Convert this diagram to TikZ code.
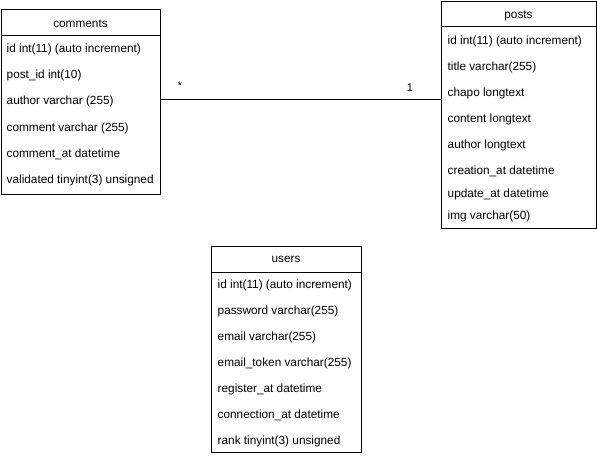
\documentclass[tikz,border=0pt]{standalone}
\usepackage{fontspec}
\setmainfont{Liberation Sans}
\begin{document}
\begin{tikzpicture}[x=1pt,y=-1pt,
  frame/.style={draw,line width=0.9pt,anchor=north west,inner sep=0pt,outer sep=0pt},
  title/.style={font=\fontsize{11.8}{13}\selectfont,inner sep=0pt,yshift=-1.5pt},
  field/.style={font=\fontsize{11.8}{13}\selectfont,anchor=west,inner sep=0pt,yshift=-1.5pt},
  mult/.style={font=\fontsize{11}{13}\selectfont,inner sep=0pt},
  link/.style={line width=0.9pt}]
\useasboundingbox[fill=white] (0,0) rectangle (597,457);

% comments table
\node[frame,minimum width=159pt,minimum height=185pt] (comments) at (1,9) {};
\draw[line width=0.9pt] (1,35) -- (160,35);
\node[title] (commentsT) at (80.5,22) {comments};
\node[field] (c1) at (6.5,48) {id int(11) (auto increment)};
\node[field] (c2) at (6.5,74) {post\_id int(10)};
\node[field] (c3) at (6.5,100) {author varchar (255)};
\node[field] (c4) at (6.5,127) {comment varchar (255)};
\node[field] (c5) at (6.5,153) {comment\_at datetime};
\node[field] (c6) at (6.5,179) {validated tinyint(3) unsigned};

% posts table
\node[frame,minimum width=155pt,minimum height=227pt] (posts) at (441,1) {};
\draw[line width=0.9pt] (441,26) -- (596,26);
\node[title] (postsT) at (518.5,14) {posts};
\node[field] (p1) at (447.5,40) {id int(11) (auto increment)};
\node[field] (p2) at (447.5,66) {title varchar(255)};
\node[field] (p3) at (447.5,92) {chapo longtext};
\node[field] (p4) at (447.5,118) {content longtext};
\node[field] (p5) at (447.5,144) {author longtext};
\node[field] (p6) at (447.5,170) {creation\_at datetime};
\node[field] (p7) at (447.5,193) {update\_at datetime};
\node[field] (p8) at (447.5,215) {img varchar(50)};

% users table
\node[frame,minimum width=150pt,minimum height=206pt] (users) at (211,246) {};
\draw[line width=0.9pt] (211,272) -- (361,272);
\node[title] (usersT) at (286,258) {users};
\node[field] (u1) at (217.5,284) {id int(11) (auto increment)};
\node[field] (u2) at (217.5,310) {password varchar(255)};
\node[field] (u3) at (217.5,336) {email varchar(255)};
\node[field] (u4) at (217.5,362) {email\_token varchar(255)};
\node[field] (u5) at (217.5,388) {register\_at datetime};
\node[field] (u6) at (217.5,414) {connection\_at datetime};
\node[field] (u7) at (217.5,440) {rank tinyint(3) unsigned};

% relation comments (*) -- posts (1)
\coordinate (rel) at (300,99);
\draw[link] (comments.east |- rel) -- (posts.west |- rel);
\node[mult] (many) at (180,86) {*};
\node[mult] (one) at (410,87.5) {1};
\end{tikzpicture}
\end{document}
